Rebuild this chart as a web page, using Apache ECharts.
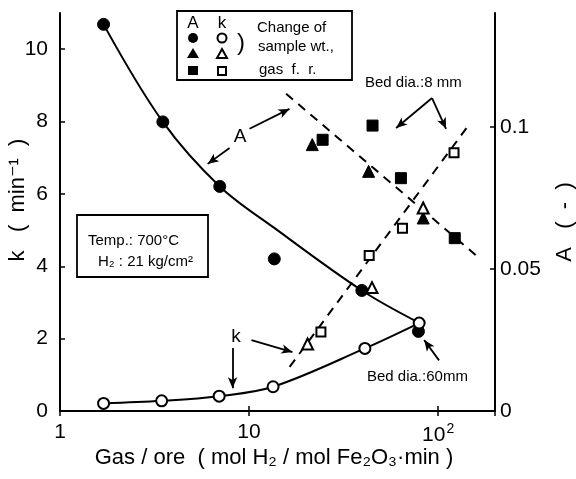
<!DOCTYPE html>
<html>
<head>
<meta charset="utf-8">
<script src="https://cdn.jsdelivr.net/npm/echarts@6/dist/echarts.min.js"></script>
<style>
  html, body { margin: 0; padding: 0; background: #fff; }
  #chart { width: 576px; height: 479px; }
</style>
</head>
<body>
<div id="chart"></div>
<script>
// Gas/ore ratio (mol H2 / mol Fe2O3·min) and measured values
// Bed dia. 60 mm, change of sample wt. (circles)
const circleGasOreA = [1.7, 3.5, 7.0, 13.6, 39.5, 78.7];
const circleA       = [0.136, 0.1017, 0.079, 0.0535, 0.0424, 0.028];
const circleGasOreK = [1.7, 3.45, 6.95, 13.4, 41, 79.4];
const circleK       = [0.21, 0.28, 0.41, 0.67, 1.73, 2.43];

// Bed dia. 8 mm, change of sample wt. (triangles)
const triGasOre = [21.6, 42.9, 83.4];
const triA      = [0.0937, 0.0843, 0.0679];
const triGasOreK = [20.4, 44.7, 83.4];
const triK      = [1.85, 3.41, 5.61];

// Bed dia. 8 mm, gas flow rate (squares)
const sqGasOreA = [24.5, 45, 63.6, 122.5];
const sqA       = [0.0954, 0.1004, 0.0819, 0.0608];
const sqGasOreK = [24.0, 43.2, 64.8, 121.4];
const sqK       = [2.18, 4.30, 5.05, 7.14];

// Fitted curve for A at bed dia. 60 mm
const aFitGasOre = [1.7, 3.5, 7.0, 13.6, 39.5, 79];
const aFit       = [0.136, 0.1017, 0.079, 0.0644, 0.0424, 0.0311];

// Trend lines for bed dia. 8 mm
const aTrendGasOre = [15.7, 158];
const aTrend       = [0.1116, 0.0549];
const kTrendGasOre = [16.4, 147];
const kTrend       = [1.22, 7.94];

// Axis ticks
const kTicks = [0, 2, 4, 6, 8, 10];
const aTicks = [0, 0.05, 0.1];

const FONT = 'Liberation Sans, DejaVu Sans, sans-serif';
const zip = (xs, ys) => xs.map((x, i) => [x, ys[i]]);

const chart = echarts.init(document.getElementById('chart'), null, { renderer: 'canvas' });

const axisLine = { show: true, lineStyle: { color: '#000', width: 2 } };

const scatter = (name, xs, ys, symbol, size, filled, yIdx, z) => ({
  name, type: 'scatter', yAxisIndex: yIdx, z: z || 5,
  data: zip(xs, ys), symbol, symbolSize: size,
  itemStyle: filled
    ? { color: '#000', borderColor: '#000', borderWidth: 1, opacity: 1 }
    : { color: '#fff', borderColor: '#000', borderWidth: 2, opacity: 1 },
  animation: false
});

// Annotation arrows, in data coordinates (gas/ore, k)
const arrows = [
  [[7.89, 7.27], [6.04, 6.83]],
  [[10.06, 7.80], [16.36, 8.35]],
  [[8.18, 1.74], [8.18, 0.63]],
  [[10.3, 1.96], [16.97, 1.63]],
  [[92.9, 8.65], [60.0, 7.82]],
  [[92.9, 8.65], [110.2, 7.80]],
  [[101.2, 1.40], [84.4, 1.96]]
];

const option = {
  animation: false,
  backgroundColor: '#fff',
  grid: { left: 60, right: 81, top: 13, bottom: 68, show: false },
  xAxis: [{
    type: 'log', logBase: 10, min: 1, max: 200,
    axisLine,
    axisTick: { show: true, inside: true, length: 5, lineStyle: { color: '#000', width: 1.5 } },
    minorTick: { show: false },
    splitLine: { show: false },
    axisLabel: {
      color: '#000', fontFamily: FONT, fontSize: 21, margin: 11,
      showMaxLabel: false,
      formatter: v => {
        const r = Math.round(v);
        if (r === 1) return '1';
        if (r === 10) return '10';
        if (r === 100) return '10{sup|2}';
        return '';
      },
      rich: { sup: { fontSize: 14, fontFamily: FONT, color: '#000', verticalAlign: 'top', padding: [0, 0, 12, 1] } }
    }
  }, {
    type: 'log', logBase: 10, min: 1, max: 200, position: 'top',
    axisLine,
    axisTick: { show: true, inside: true, length: 5, lineStyle: { color: '#000', width: 1.5 } },
    axisLabel: { show: false },
    splitLine: { show: false }
  }],
  yAxis: [{
    type: 'value', min: 0, max: 11, interval: 2, position: 'left',
    axisLine,
    axisTick: { show: true, inside: true, length: 5, lineStyle: { color: '#000', width: 1.5 } },
    splitLine: { show: false },
    axisLabel: {
      color: '#000', fontFamily: FONT, fontSize: 21, margin: 12,
      showMaxLabel: false,
      formatter: v => kTicks.includes(v) ? String(v) : ''
    }
  }, {
    type: 'value', min: 0, max: 0.14, interval: 0.05, position: 'right',
    axisLine,
    axisTick: { show: true, inside: true, length: 5, lineStyle: { color: '#000', width: 1.5 } },
    splitLine: { show: false },
    axisLabel: {
      color: '#000', fontFamily: FONT, fontSize: 21, margin: 5,
      showMaxLabel: false,
      formatter: v => {
        const t = aTicks.find(a => Math.abs(a - v) < 1e-9);
        return t === undefined ? '' : String(t);
      }
    }
  }],
  series: [
    {
      name: 'A fit', type: 'line', yAxisIndex: 1, smooth: 0.35, showSymbol: false, symbol: 'none',
      data: zip(aFitGasOre, aFit), lineStyle: { color: '#000', width: 2 }, z: 2
    },
    {
      name: 'k fit', type: 'line', yAxisIndex: 0, smooth: 0.35, showSymbol: false, symbol: 'none',
      data: zip(circleGasOreK, circleK), lineStyle: { color: '#000', width: 2 }, z: 2
    },
    {
      name: 'A trend', type: 'line', yAxisIndex: 1, showSymbol: false, symbol: 'none',
      data: zip(aTrendGasOre, aTrend), lineStyle: { color: '#000', width: 2, type: [9, 7] }, z: 2
    },
    {
      name: 'k trend', type: 'line', yAxisIndex: 0, showSymbol: false, symbol: 'none',
      data: zip(kTrendGasOre, kTrend), lineStyle: { color: '#000', width: 2, type: [9, 7] }, z: 2,
      markLine: {
        silent: true, animation: false,
        symbol: ['none', 'arrow'], symbolSize: [7, 11],
        label: { show: false },
        lineStyle: { color: '#000', width: 1.8, type: 'solid' },
        data: arrows.map(([a, b]) => [{ coord: a }, { coord: b }])
      }
    },
    scatter('A circle', circleGasOreA, circleA, 'circle', 12, true, 1, 5),
    scatter('k circle', circleGasOreK, circleK, 'circle', 11, false, 0, 6),
    scatter('A triangle', triGasOre, triA, 'triangle', 12, true, 1, 5),
    scatter('k triangle', triGasOreK, triK, 'triangle', 11, false, 0, 6),
    scatter('A square', sqGasOreA, sqA, 'rect', 11, true, 1, 5),
    scatter('k square', sqGasOreK, sqK, 'rect', 9, false, 0, 6)
  ],
  graphic: [
    // symbol key
    { type: 'rect', z: 20, shape: { x: 177, y: 11, width: 175, height: 69 },
      style: { fill: '#fff', stroke: '#000', lineWidth: 1.8 } },
    { type: 'text', z: 21, x: 193, y: 23, style: { text: 'A', font: '17px ' + FONT, fill: '#000', align: 'center', verticalAlign: 'middle' } },
    { type: 'text', z: 21, x: 222, y: 23, style: { text: 'k', font: '17px ' + FONT, fill: '#000', align: 'center', verticalAlign: 'middle' } },
    { type: 'circle', z: 21, shape: { cx: 193, cy: 38, r: 5 }, style: { fill: '#000' } },
    { type: 'circle', z: 21, shape: { cx: 222, cy: 38, r: 4.5 }, style: { fill: '#fff', stroke: '#000', lineWidth: 2 } },
    { type: 'polygon', z: 21, shape: { points: [[193, 48], [199, 58], [187, 58]] }, style: { fill: '#000' } },
    { type: 'polygon', z: 21, shape: { points: [[222, 49], [227, 58], [217, 58]] }, style: { fill: '#fff', stroke: '#000', lineWidth: 2 } },
    { type: 'rect', z: 21, shape: { x: 188, y: 66, width: 10, height: 9 }, style: { fill: '#000' } },
    { type: 'rect', z: 21, shape: { x: 218, y: 67, width: 8, height: 8 }, style: { fill: '#fff', stroke: '#000', lineWidth: 2 } },
    { type: 'text', z: 21, x: 241, y: 43, style: { text: ')', font: '24px ' + FONT, fill: '#000', align: 'center', verticalAlign: 'middle' } },
    { type: 'text', z: 21, x: 257, y: 28, style: { text: 'Change of', font: '15px ' + FONT, fill: '#000', verticalAlign: 'middle' } },
    { type: 'text', z: 21, x: 258, y: 47, style: { text: 'sample wt.,', font: '15px ' + FONT, fill: '#000', verticalAlign: 'middle' } },
    { type: 'text', z: 21, x: 259, y: 70, style: { text: 'gas  f.  r.', font: '15px ' + FONT, fill: '#000', verticalAlign: 'middle' } },

    // conditions box
    { type: 'rect', z: 20, shape: { x: 77, y: 215, width: 131, height: 62 },
      style: { fill: '#fff', stroke: '#000', lineWidth: 1.8 } },
    { type: 'text', z: 21, x: 88, y: 241, style: { text: 'Temp.: 700°C', font: '15px ' + FONT, fill: '#000', verticalAlign: 'middle' } },
    { type: 'text', z: 21, x: 98, y: 262, style: { text: 'H₂ : 21 kg/cm²', font: '15px ' + FONT, fill: '#000', verticalAlign: 'middle' } },

    // curve labels
    { type: 'text', z: 21, x: 240, y: 137, style: { text: 'A', font: '19px ' + FONT, fill: '#000', align: 'center', verticalAlign: 'middle' } },
    { type: 'text', z: 21, x: 236, y: 337, style: { text: 'k', font: '19px ' + FONT, fill: '#000', align: 'center', verticalAlign: 'middle' } },
    { type: 'text', z: 21, x: 365, y: 83, style: { text: 'Bed dia.:8 mm', font: '15px ' + FONT, fill: '#000', verticalAlign: 'middle' } },
    { type: 'text', z: 21, x: 367, y: 377, style: { text: 'Bed dia.:60mm', font: '15px ' + FONT, fill: '#000', verticalAlign: 'middle' } },

    // axis titles
    { type: 'text', z: 21, x: 18, y: 200, rotation: Math.PI / 2,
      style: { text: 'k   (  min⁻¹  )', font: '22px ' + FONT, fill: '#000', align: 'center', verticalAlign: 'middle' } },
    { type: 'text', z: 21, x: 565, y: 222, rotation: Math.PI / 2,
      style: { text: 'A   (  -  )', font: '22px ' + FONT, fill: '#000', align: 'center', verticalAlign: 'middle' } },
    { type: 'text', z: 21, x: 274, y: 458,
      style: { text: 'Gas / ore  ( mol H₂ / mol Fe₂O₃·min )', font: '22px ' + FONT, fill: '#000', align: 'center', verticalAlign: 'middle' } }
  ]
};

chart.setOption(option);
</script>
</body>
</html>
